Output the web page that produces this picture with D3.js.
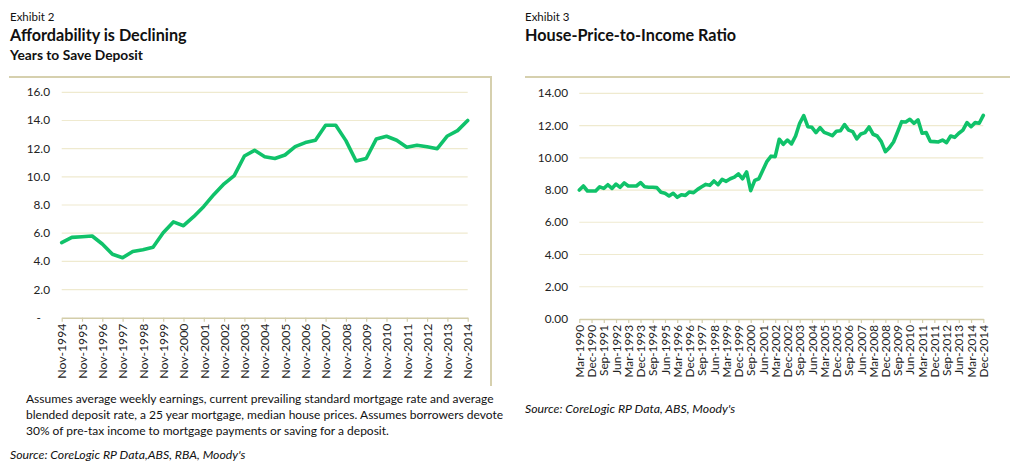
<!DOCTYPE html>
<html>
<head>
<meta charset="utf-8">
<script src="https://cdn.jsdelivr.net/npm/d3@7"></script>
<style>
  body { margin: 0; background: #fff; }
  text { font-family: Lato, "Open Sans", sans-serif; }
</style>
</head>
<body>
<svg id="chart"></svg>
<script>
// Exhibit 2: years to save deposit, half-yearly Nov-1994 .. Nov-2014
const leftTickLabels = ["Nov-1994","Nov-1995","Nov-1996","Nov-1997","Nov-1998","Nov-1999","Nov-2000",
  "Nov-2001","Nov-2002","Nov-2003","Nov-2004","Nov-2005","Nov-2006","Nov-2007","Nov-2008","Nov-2009",
  "Nov-2010","Nov-2011","Nov-2012","Nov-2013","Nov-2014"]
const leftValues = [5.33,5.7,5.75,5.8,5.23,4.5,4.26,4.7,4.83,5.0,6.03,6.8,6.53,7.17,7.9,8.75,9.5,10.08,
  11.48,11.88,11.43,11.3,11.55,12.14,12.43,12.6,13.66,13.66,12.57,11.12,11.3,12.69,12.88,12.6,12.1,
  12.24,12.14,12.0,12.9,13.28,14.0]
const leftYTicks = [0,2,4,6,8,10,12,14,16]

// Exhibit 3: house price to income ratio, quarterly Mar-1990 .. Dec-2014
const rightTickLabels = ["Mar-1990","Dec-1990","Sep-1991","Jun-1992","Mar-1993","Dec-1993","Sep-1994",
  "Jun-1995","Mar-1996","Dec-1996","Sep-1997","Jun-1998","Mar-1999","Dec-1999","Sep-2000","Jun-2001",
  "Mar-2002","Dec-2002","Sep-2003","Jun-2004","Mar-2005","Dec-2005","Sep-2006","Jun-2007","Mar-2008",
  "Dec-2008","Sep-2009","Jun-2010","Mar-2011","Dec-2011","Sep-2012","Jun-2013","Mar-2014","Dec-2014"]
const rightValues = [8.0,8.25,7.94,7.94,7.94,8.2,8.1,8.33,8.1,8.37,8.17,8.44,8.25,8.25,8.25,8.46,8.2,
  8.17,8.17,8.15,7.86,7.8,7.63,7.8,7.55,7.71,7.67,7.88,7.84,8.04,8.2,8.35,8.29,8.56,8.33,8.66,8.54,
  8.7,8.8,9.0,8.7,9.12,7.96,8.6,8.7,9.24,9.78,10.1,10.07,11.15,10.84,11.1,10.86,11.35,12.14,12.61,
  11.93,11.89,11.56,11.87,11.58,11.48,11.37,11.64,11.68,12.06,11.72,11.62,11.17,11.48,11.56,11.91,
  11.46,11.35,11.0,10.38,10.63,10.98,11.6,12.24,12.22,12.39,12.14,12.35,11.52,11.56,11.02,11.0,
  10.98,11.1,10.94,11.35,11.27,11.52,11.72,12.18,11.93,12.18,12.14,12.63]
const rightYTicks = [0,2,4,6,8,10,12,14]

const width = 1012, height = 464
const lineColor = "#10c26a", gridColor = "#efeacf", borderColor = "#d6d0ae", axisColor = "#d3cda9"

const svg = d3.select("#chart").attr("width", width).attr("height", height)
svg.append("rect").attr("width", width).attr("height", height).attr("fill", "#fff")

const drawPanel = (opt) => {
  const { x0, x1, y0, y1, values, tickLabels, tickEvery, yTicks, yFmt, labelX } = opt
  const g = svg.append("g")
  const x = d3.scaleLinear().domain([0, values.length - 1]).range([x0, x1])
  const y = d3.scaleLinear().domain([0, d3.max(yTicks)]).range([y1, y0])

  // gridlines
  g.selectAll(".grid").data(yTicks.filter(d => d > 0)).enter().append("line")
    .attr("x1", x0).attr("x2", x1)
    .attr("y1", d => y(d)).attr("y2", d => y(d))
    .attr("stroke", gridColor).attr("stroke-width", 1.2)

  // y labels
  g.selectAll(".ylab").data(yTicks).enter().append("text")
    .attr("x", d => d === 0 && opt.zeroDash ? labelX - 9 : labelX)
    .attr("y", d => y(d) + 4)
    .attr("text-anchor", "end")
    .attr("font-size", 11.8)
    .attr("fill", "#222")
    .text(d => d === 0 && opt.zeroDash ? "-" : yFmt(d))

  // x axis
  const tickIdx = tickLabels.map((t, i) => i * tickEvery)
  const xAxis = d3.axisBottom(x).tickValues(tickIdx)
    .tickFormat((d, i) => tickLabels[i]).tickSize(4).tickSizeOuter(0)
  const ax = g.append("g").attr("transform", `translate(0,${y1})`).call(xAxis)
  ax.select(".domain").attr("stroke", axisColor).attr("stroke-width", 1.5)
  ax.selectAll(".tick line").attr("stroke", axisColor).attr("stroke-width", 1.2)
  ax.selectAll(".tick text")
    .attr("font-family", "Lato, 'Open Sans', sans-serif")
    .attr("font-size", opt.xFont)
    .attr("fill", "#222")
    .attr("transform", "rotate(-90)")
    .attr("text-anchor", "end")
    .attr("x", -6).attr("y", 0).attr("dy", "0.35em")

  // line
  const line = d3.line().x((d, i) => x(i)).y(d => y(d))
  g.append("path").datum(values)
    .attr("d", line)
    .attr("fill", "none")
    .attr("stroke", lineColor)
    .attr("stroke-width", 3.6)
    .attr("stroke-linejoin", "round")
    .attr("stroke-linecap", "round")
}

// left panel frame
svg.append("line").attr("x1", 9).attr("x2", 491).attr("y1", 77).attr("y2", 77)
  .attr("stroke", borderColor).attr("stroke-width", 2)
svg.append("line").attr("x1", 491).attr("x2", 491).attr("y1", 76).attr("y2", 386)
  .attr("stroke", borderColor).attr("stroke-width", 2)
// right panel frame
svg.append("line").attr("x1", 525).attr("x2", 1010).attr("y1", 77).attr("y2", 77)
  .attr("stroke", borderColor).attr("stroke-width", 2)

drawPanel({ x0: 61.7, x1: 467.7, y0: 92.3, y1: 317.7, values: leftValues,
  tickLabels: leftTickLabels, tickEvery: 2, yTicks: leftYTicks,
  yFmt: d3.format(".1f"), labelX: 50, zeroDash: true, xFont: 12.2 })

drawPanel({ x0: 579.3, x1: 983.3, y0: 93.3, y1: 319, values: rightValues,
  tickLabels: rightTickLabels, tickEvery: 3, yTicks: rightYTicks,
  yFmt: d3.format(".2f"), labelX: 568, zeroDash: false, xFont: 11.8 })

// titles
const addText = (x, y, s, size, weight, style) => svg.append("text")
  .attr("x", x).attr("y", y).attr("font-size", size)
  .attr("font-weight", weight || "normal").attr("font-style", style || "normal")
  .attr("fill", "#111").text(s)

addText(10, 21, "Exhibit 2", 11.5)
addText(10, 41, "Affordability is Declining", 16.2, "bold")
addText(10, 60, "Years to Save Deposit", 13.8, "bold")
addText(525, 21, "Exhibit 3", 11.5)
addText(525, 41, "House-Price-to-Income Ratio", 16.2, "bold")

addText(26, 403, "Assumes average weekly earnings, current prevailing standard mortgage rate and average", 12)
addText(26, 419, "blended deposit rate, a 25 year mortgage, median house prices. Assumes borrowers devote", 12)
addText(26, 435, "30% of pre-tax income to mortgage payments or saving for a deposit.", 12)
addText(10, 459, "Source: CoreLogic RP Data,ABS, RBA, Moody's", 12.3, "normal", "italic")
addText(525, 413, "Source: CoreLogic RP Data, ABS, Moody's", 12.3, "normal", "italic")
</script>
</body>
</html>
